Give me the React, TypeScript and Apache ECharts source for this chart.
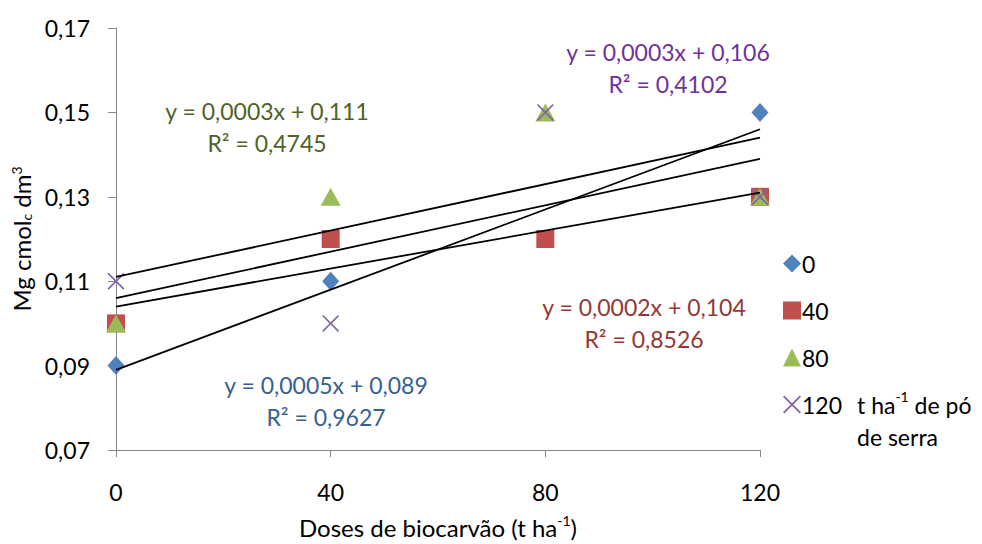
import React, { useEffect, useRef } from "react";
import * as echarts from "echarts";

const doses = [0, 40, 80, 120];
const seriesNames = ["0", "40", "80", "120"];
const mg0 = [0.09, 0.11, 0.12, 0.15];
const mg40 = [0.1, 0.12, 0.12, 0.13];
const mg80 = [0.1, 0.13, 0.15, 0.13];
const mg120 = [0.11, 0.1, 0.15, 0.13];
const allSeries = [mg0, mg40, mg80, mg120];

const equations = [
  "y = 0,0005x + 0,089",
  "y = 0,0002x + 0,104",
  "y = 0,0003x + 0,111",
  "y = 0,0003x + 0,106",
];
const r2Labels = ["R² = 0,9627", "R² = 0,8526", "R² = 0,4745", "R² = 0,4102"];

const markerColors = ["#4F81BD", "#C0504D", "#9BBB59", "#8064A2"];
const labelColors = ["#376092", "#953735", "#4F6228", "#7030A0"];
const symbols = [
  "diamond",
  "rect",
  "triangle",
  "path://M0,0.7 L0.7,0 L5,4.3 L9.3,0 L10,0.7 L5.7,5 L10,9.3 L9.3,10 L5,5.7 L0.7,10 L0,9.3 L4.3,5 Z",
];
const symbolSizes: any[] = [[17, 19], [18, 18], [20, 18], [17, 17]];
// equation-line centre positions (px)
const labelPos = [
  [326, 385],
  [644, 307],
  [267, 111],
  [668, 52],
];

const FONT = "Lato, 'Open Sans', sans-serif";

function regression(xs: number[], ys: number[]) {
  const n = xs.length;
  const mx = xs.reduce((a, b) => a + b, 0) / n;
  const my = ys.reduce((a, b) => a + b, 0) / n;
  let sxy = 0,
    sxx = 0;
  for (let i = 0; i < n; i++) {
    sxy += (xs[i] - mx) * (ys[i] - my);
    sxx += (xs[i] - mx) * (xs[i] - mx);
  }
  const b = sxy / sxx;
  return { a: my - b * mx, b };
}

export default function App() {
  const ref = useRef<HTMLDivElement>(null);
  useEffect(() => {
    document.body.style.margin = "0";
    if (!ref.current) return;
    const chart = echarts.init(ref.current, undefined, { renderer: "svg" });
    const xMin = doses[0];
    const xMax = doses[doses.length - 1];

    const scatter = allSeries.map((vals, i) => ({
      type: "scatter",
      name: seriesNames[i],
      data: vals.map((v, j) => [doses[j], v]),
      symbol: symbols[i],
      symbolSize: symbolSizes[i],
      itemStyle: { color: markerColors[i], opacity: 1 },
      z: 2,
    }));
    const trends = allSeries.map((vals) => {
      const { a, b } = regression(doses, vals);
      return {
        type: "line",
        data: [
          [xMin, a + b * xMin],
          [xMax, a + b * xMax],
        ],
        symbol: "none",
        lineStyle: { color: "#000", width: 1.8 },
        z: 3,
        silent: true,
      };
    });

    const graphics: any[] = [];
    equations.forEach((eq, i) => {
      graphics.push({
        type: "text",
        x: labelPos[i][0],
        y: labelPos[i][1] + 16,
        style: {
          text: eq + "\n" + r2Labels[i],
          fill: labelColors[i],
          font: `23px ${FONT}`,
          align: "center",
          verticalAlign: "middle",
          lineHeight: 32,
        },
        z: 10,
      });
    });
    graphics.push({
      type: "text",
      x: 857,
      y: 389,
      style: {
        text: "{n|t ha}{s|-1}{n| de pó}\n{n|de serra}",
        fill: "#000",
        font: `23px ${FONT}`,
        rich: {
          n: { fontSize: 23, fontFamily: FONT, lineHeight: 32, fill: "#000" },
          s: { fontSize: 14, fontFamily: FONT, verticalAlign: "top", fill: "#000" },
        },
      },
    });

    chart.setOption({
      animation: false,
      backgroundColor: "#fff",
      textStyle: { fontFamily: FONT },
      grid: { left: 116, right: 222, top: 28, bottom: 87 },
      legend: {
        data: seriesNames,
        orient: "vertical",
        left: 778,
        top: 247,
        itemWidth: 18,
        itemHeight: 18,
        itemGap: 24,
        textStyle: { fontSize: 23, color: "#000", fontFamily: FONT, padding: [0, 0, 0, -4] },
      },
      xAxis: {
        type: "value",
        min: 0,
        max: 120,
        interval: 40,
        name: "Doses de biocarvão (t ha{s|-1}{n|)}",
        nameLocation: "middle",
        nameGap: 63,
        nameTextStyle: {
          fontSize: 24,
          color: "#000",
          fontFamily: FONT,
          rich: {
            n: { fontSize: 24, fontFamily: FONT, color: "#000", lineHeight: 28 },
            s: { fontSize: 14, fontFamily: FONT, color: "#000", verticalAlign: "top" },
          },
        },
        axisLine: { lineStyle: { color: "#868686", width: 1 } },
        axisTick: { show: true, length: 7, lineStyle: { color: "#868686" } },
        axisLabel: { fontSize: 23, color: "#000", margin: 30, fontFamily: FONT },
        splitLine: { show: false },
      },
      yAxis: {
        type: "value",
        min: 0.07,
        max: 0.17,
        interval: 0.02,
        name: "Mg cmol{b|c} dm{s|3}",
        nameLocation: "middle",
        nameGap: 81,
        nameTextStyle: {
          fontSize: 24,
          color: "#000",
          fontFamily: FONT,
          rich: {
            b: { fontSize: 14, fontFamily: FONT, color: "#000", verticalAlign: "bottom" },
            s: { fontSize: 14, fontFamily: FONT, color: "#000", verticalAlign: "top" },
          },
        },
        axisLine: { show: true, lineStyle: { color: "#868686", width: 1 } },
        axisTick: { show: true, length: 8, lineStyle: { color: "#868686" } },
        axisLabel: {
          fontSize: 23,
          color: "#000",
          margin: 26,
          fontFamily: FONT,
          formatter: (v: number) => v.toFixed(2).replace(".", ","),
        },
        splitLine: { show: false },
      },
      graphic: graphics,
      series: [...scatter, ...trends],
    });
    return () => chart.dispose();
  }, []);
  return <div ref={ref} style={{ width: 982, height: 544 }} />;
}
